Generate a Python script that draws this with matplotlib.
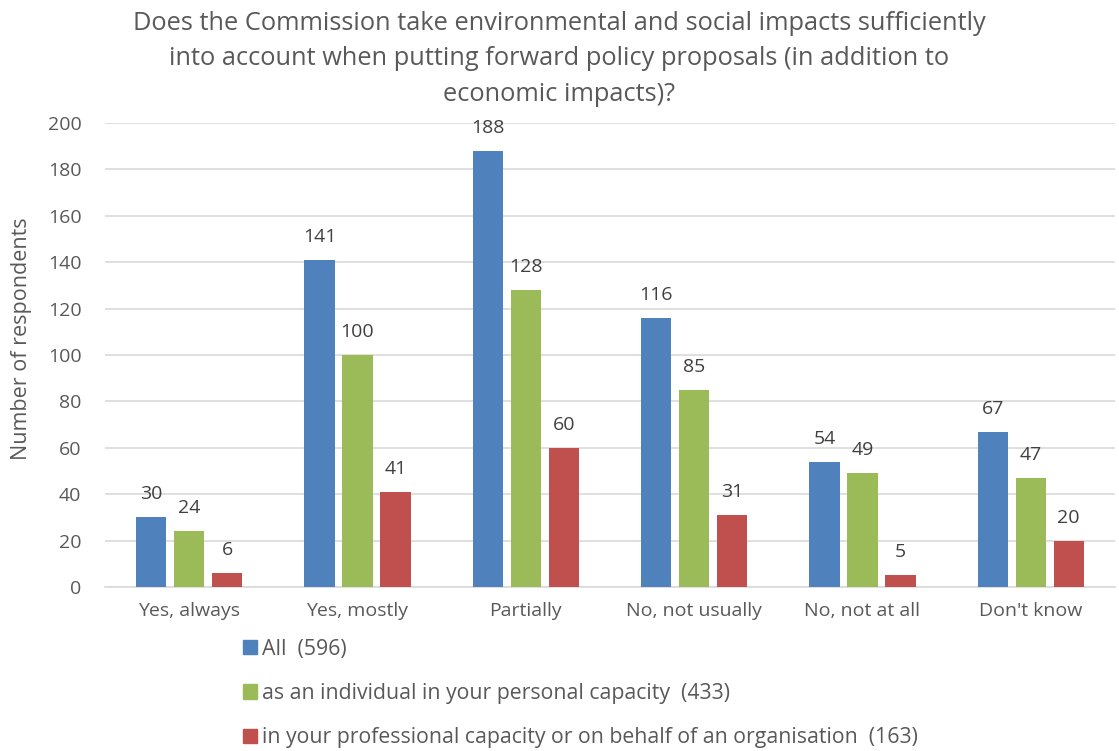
import numpy as np
import matplotlib.pyplot as plt
from matplotlib.patches import Patch

categories = ["Yes, always", "Yes, mostly", "Partially", "No, not usually", "No, not at all", "Don't know"]
all_vals = [30, 141, 188, 116, 54, 67]
individual_vals = [24, 100, 128, 85, 49, 47]
professional_vals = [6, 41, 60, 31, 5, 20]
series_names = [
    "All  (596)",
    "as an individual in your personal capacity  (433)",
    "in your professional capacity or on behalf of an organisation  (163)",
]
colors = ["#4F81BD", "#9BBB59", "#C0504D"]

plt.rcParams['font.family'] = ['Open Sans', 'DejaVu Sans']
text_color = "#595959"

fig = plt.figure(figsize=(11.19, 7.51), dpi=100)
ax = fig.add_axes([105 / 1119, 1 - 587 / 751, 1010 / 1119, 464 / 751])

x = np.arange(len(categories))
width = 0.18
offset = 0.225
for i, vals in enumerate([all_vals, individual_vals, professional_vals]):
    bars = ax.bar(x + (i - 1) * offset, vals, width, color=colors[i], zorder=3)
    for b, v in zip(bars, vals):
        ax.text(b.get_x() + b.get_width() / 2, v + 6, str(v), ha="center", va="bottom",
                fontsize=14, color="#404040")

ax.set_xlim(-0.5, len(categories) - 0.5)
ax.set_ylim(0, 200)
ax.set_yticks(range(0, 201, 20))
ax.set_xticks(x)
ax.set_xticklabels(categories)
ax.grid(axis="y", color="#D9D9D9", linewidth=1.2, zorder=0)
for s in ["top", "right", "left"]:
    ax.spines[s].set_visible(False)
ax.spines["bottom"].set_color("#D9D9D9")
ax.spines["bottom"].set_linewidth(1.2)
ax.tick_params(axis="both", length=0, colors=text_color)
ax.tick_params(axis="x", labelsize=14, pad=11)
ax.tick_params(axis="y", labelsize=14, pad=17)

fig.text(22 / 1119, 1 - 339 / 751, "Number of respondents", rotation=90,
         ha="center", va="center", fontsize=15.5, color=text_color)

fig.text(0.5, 1 - 11 / 751,
         "Does the Commission take environmental and social impacts sufficiently\n"
         "into account when putting forward policy proposals (in addition to\n"
         "economic impacts)?",
         ha="center", va="top", fontsize=18.3, color=text_color, linespacing=1.55)

handles = [Patch(color=c) for c in colors]
leg = fig.legend(handles, series_names, loc="upper left",
                 bbox_to_anchor=(234 / 1119, 1 - 630 / 751),
                 frameon=False, fontsize=15.3, handlelength=0.68, handleheight=0.68,
                 handletextpad=0.25, labelspacing=1.1, borderaxespad=0)
for t in leg.get_texts():
    t.set_color(text_color)

fig.savefig("out.png", dpi=100)
